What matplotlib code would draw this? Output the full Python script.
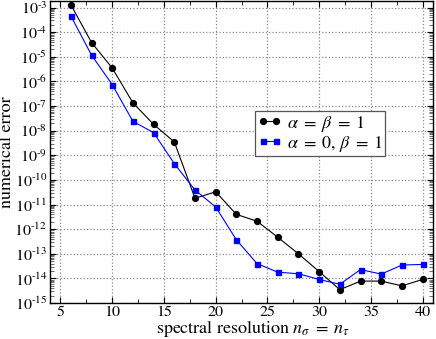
import numpy as np
import matplotlib
matplotlib.use("Agg")
from matplotlib import pyplot as plt
from matplotlib import ticker

plt.rcParams['font.family'] = ['STIXGeneral', 'DejaVu Serif']
plt.rcParams['mathtext.fontset'] = 'stix'

# spectral resolution
n = [6, 8, 10, 12, 14, 16, 18, 20, 22, 24, 26, 28, 30, 32, 34, 36, 38, 40]

# alpha = beta = 1
err_ab = [1.3e-3, 3.8e-5, 3.5e-6, 1.35e-7, 1.8e-8, 3.5e-9, 1.8e-11, 3.3e-11,
          4.0e-12, 2.1e-12, 4.7e-13, 1.0e-13, 1.9e-14, 3.5e-15, 7.8e-15,
          7.8e-15, 5.0e-15, 9.1e-15]

# alpha = 0, beta = 1
err_a0 = [4.6e-4, 1.17e-5, 7.4e-7, 2.4e-8, 8.3e-9, 4.6e-10, 3.9e-11, 8.0e-12,
          3.7e-13, 4.0e-14, 1.8e-14, 1.55e-14, 9.1e-15, 5.8e-15, 2.3e-14,
          1.5e-14, 3.5e-14, 3.7e-14]


def log_label(val, pos):
    e = int(round(np.log10(val)))
    return r'$10^{\text{-}%d}$' % (-e) if e < 0 else r'$10^{%d}$' % e


fig = plt.figure(figsize=(4.36, 3.39), dpi=100)
ax = fig.add_axes([0.115, 0.106, 0.878, 0.892])

ax.plot(n, err_ab, '-o', color='black', lw=0.8, ms=4.2, label=r'$\alpha \;=\; \beta \;=\; 1$')
ax.plot(n, err_a0, '-s', color='blue', lw=0.8, ms=3.6, label=r'$\alpha \;=\; 0,\, \beta \;=\; 1$')

ax.set_yscale('log')
ax.set_xlim(4, 41)
ax.set_ylim(1e-15, 1.9e-3)

ax.xaxis.set_major_locator(ticker.MultipleLocator(5))
ax.xaxis.set_minor_locator(ticker.MultipleLocator(2.5))
ax.yaxis.set_major_locator(ticker.LogLocator(base=10, numticks=30))
ax.yaxis.set_major_formatter(ticker.FuncFormatter(log_label))
ax.yaxis.set_minor_locator(ticker.LogLocator(base=10, subs=np.arange(2, 10), numticks=30))
ax.yaxis.set_minor_formatter(ticker.NullFormatter())

ax.tick_params(which='both', direction='in', top=True, right=True, labelsize=11.5)
ax.tick_params(which='major', length=4, pad=2)
ax.tick_params(which='minor', length=3, width=0.6)
ax.tick_params(axis='y', which='minor', colors='#555555')

ax.grid(True, which='major', linestyle=':', color='#888888', lw=0.9)

for s in ax.spines.values():
    s.set_linewidth(1.0)

ax.set_xlabel(r'spectral resolution $n_\sigma \;=\; n_\tau$', fontsize=13)
ax.xaxis.set_label_coords(0.53, -0.052, transform=ax.transAxes)
ax.xaxis.label.set_va('top')
ax.set_ylabel('numerical error', fontsize=13)
ax.yaxis.set_label_coords(-0.093, 0.5, transform=ax.transAxes)

leg = ax.legend(loc='upper left', bbox_to_anchor=(0.535, 0.635), fontsize=13,
                fancybox=False, framealpha=1, edgecolor='#555555', numpoints=2,
                handlelength=1.3, handletextpad=0.3, borderpad=0.15,
                labelspacing=0.0, borderaxespad=0)
leg.get_frame().set_linewidth(0.9)

plt.savefig('out.png', dpi=100)
